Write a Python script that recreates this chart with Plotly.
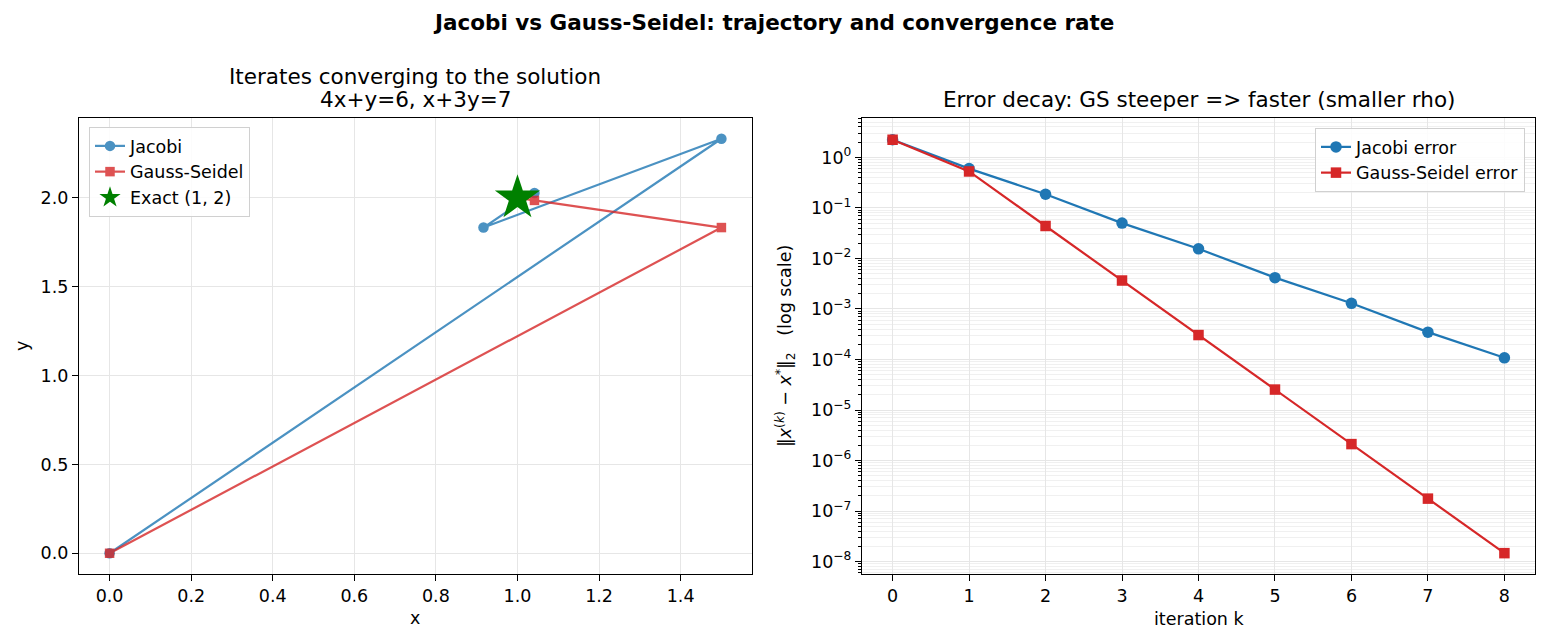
import plotly.graph_objects as go

# ---------------- data ----------------
iters = [0, 1, 2, 3, 4, 5, 6, 7, 8]

jac_x = [0.0, 1.5, 0.916667, 1.041667, 0.993056, 1.003472, 0.999421, 1.000289, 0.999952]
jac_y = [0.0, 2.333333, 1.833333, 2.027778, 1.986111, 2.002315, 1.998843, 2.000193, 1.999904]

gs_x = [0.0, 1.5, 1.041667, 1.003472, 1.000289, 1.000024, 1.000002, 1.0000002, 1.0]
gs_y = [0.0, 1.833333, 1.986111, 1.998843, 1.999904, 1.999992, 1.999999, 2.0, 2.0]

exact_x = [1.0]
exact_y = [2.0]

jac_err = [2.236068, 0.600925, 0.186339, 0.050077, 0.015528, 0.004173, 0.001294, 0.000348, 0.000108]
gs_err = [2.236068, 0.527046, 0.043921, 0.0036601, 0.00030501, 2.5417e-5, 2.1181e-6, 1.7651e-7, 1.4709e-8]

left_xticks = [0.0, 0.2, 0.4, 0.6, 0.8, 1.0, 1.2, 1.4]
left_yticks = [0.0, 0.5, 1.0, 1.5, 2.0]
log_exps = [0, -1, -2, -3, -4, -5, -6, -7, -8]

# ---------------- style ----------------
W, H = 1546, 643
FONT = "DejaVu Sans"
BLUE = "#1f77b4"
RED = "#d62728"
GRID = "#e6e6e6"
MINOR_GRID = "#f0f0f0"
TICK = 17.5
TITLE = 21.5


def px_x(p):
    return p / W


def px_y(p):
    return 1 - p / H


fig = go.Figure()

# Left: trajectories
fig.add_trace(go.Scatter(
    x=jac_x, y=jac_y, mode="lines+markers", name="Jacobi",
    line=dict(color=BLUE, width=2.2), marker=dict(symbol="circle", size=10.5, color=BLUE),
    opacity=0.8, xaxis="x", yaxis="y", legend="legend"))
fig.add_trace(go.Scatter(
    x=gs_x, y=gs_y, mode="lines+markers", name="Gauss-Seidel",
    line=dict(color=RED, width=2.2), marker=dict(symbol="square", size=9.5, color=RED),
    opacity=0.8, xaxis="x", yaxis="y", legend="legend"))
fig.add_trace(go.Scatter(
    x=exact_x, y=exact_y, mode="markers", name="Exact (1, 2)",
    marker=dict(symbol="star", size=34, color="green", line=dict(width=0)),
    xaxis="x", yaxis="y", legend="legend"))

# Right: error decay
fig.add_trace(go.Scatter(
    x=iters, y=jac_err, mode="lines+markers", name="Jacobi error",
    line=dict(color=BLUE, width=2.2), marker=dict(symbol="circle", size=11.5, color=BLUE),
    xaxis="x2", yaxis="y2", legend="legend2"))
fig.add_trace(go.Scatter(
    x=iters, y=gs_err, mode="lines+markers", name="Gauss-Seidel error",
    line=dict(color=RED, width=2.2), marker=dict(symbol="square", size=10.5, color=RED),
    xaxis="x2", yaxis="y2", legend="legend2"))

axis_common = dict(
    showline=True, linecolor="black", linewidth=1.2, mirror=True,
    ticks="outside", ticklen=6, tickwidth=1.2, tickcolor="black",
    showgrid=True, gridcolor=GRID, gridwidth=1, zeroline=False,
    tickfont=dict(family=FONT, size=TICK, color="black"),
)

ydom = [1 - 574 / H, 1 - 118 / H]

fig.update_layout(
    width=W, height=H,
    margin=dict(l=0, r=0, t=0, b=0),
    paper_bgcolor="white", plot_bgcolor="white",
    font=dict(family=FONT, size=TICK, color="black"),
    xaxis=dict(domain=[px_x(79), px_x(752)], range=[-0.075, 1.575],
               tickvals=left_xticks, ticktext=[f"{v:.1f}" for v in left_xticks],
               anchor="y", **axis_common),
    yaxis=dict(domain=ydom, range=[-0.1167, 2.45],
               tickvals=left_yticks, ticktext=[f"{v:.1f}" for v in left_yticks],
               anchor="x", **axis_common),
    xaxis2=dict(domain=[px_x(862), px_x(1535)], range=[-0.4, 8.4],
                tickvals=iters, ticktext=[str(i) for i in iters],
                anchor="y2", **axis_common),
    yaxis2=dict(domain=ydom, type="log", range=[-8.245, 0.78],
                tickvals=[10.0 ** e for e in log_exps],
                ticktext=[f"10<sup>{'−' if e < 0 else ''}{abs(e)}</sup>" for e in log_exps],
                minor=dict(tickvals=[m * 10.0 ** e for e in range(-9, 1) for m in range(2, 10)],
                           ticks="outside", ticklen=3, tickwidth=1, tickcolor="black",
                           showgrid=True, gridcolor=MINOR_GRID, gridwidth=1),
                anchor="x2", **axis_common),
    legend=dict(x=px_x(89), y=px_y(127), xanchor="left", yanchor="top",
                bgcolor="rgba(255,255,255,0.85)", bordercolor="#d0d0d0", borderwidth=1,
                font=dict(family=FONT, size=TICK), tracegroupgap=0),
    legend2=dict(x=px_x(1525), y=px_y(128), xanchor="right", yanchor="top",
                 bgcolor="rgba(255,255,255,0.85)", bordercolor="#d0d0d0", borderwidth=1,
                 font=dict(family=FONT, size=TICK), tracegroupgap=0),
    showlegend=True,
)

annotations = [
    dict(text="<b>Jacobi vs Gauss-Seidel: trajectory and convergence rate</b>",
         x=0.5, y=px_y(22), font=dict(family=FONT, size=TITLE)),
    dict(text="Iterates converging to the solution", x=px_x(415.5), y=px_y(77),
         font=dict(family=FONT, size=TITLE)),
    dict(text="4x+y=6, x+3y=7", x=px_x(415.5), y=px_y(99), font=dict(family=FONT, size=TITLE)),
    dict(text="Error decay: GS steeper => faster (smaller rho)", x=px_x(1198.5), y=px_y(99),
         font=dict(family=FONT, size=TITLE)),
    dict(text="x", x=px_x(415.5), y=px_y(618), font=dict(family=FONT, size=TICK)),
    dict(text="y", x=px_x(22), y=px_y(346), textangle=-90, font=dict(family=FONT, size=TICK)),
    dict(text="iteration k", x=px_x(1198.5), y=px_y(619), font=dict(family=FONT, size=TICK)),
    dict(text="‖<i>x</i><sup>(<i>k</i>)</sup> − <i>x</i><sup>*</sup>‖<sub>2</sub>   (log scale)",
         x=px_x(786), y=px_y(346), textangle=-90, font=dict(family=FONT, size=TICK)),
]
for a in annotations:
    a.update(xref="paper", yref="paper", showarrow=False, xanchor="center", yanchor="middle")
fig.update_layout(annotations=annotations)

fig.write_html("out.html")
